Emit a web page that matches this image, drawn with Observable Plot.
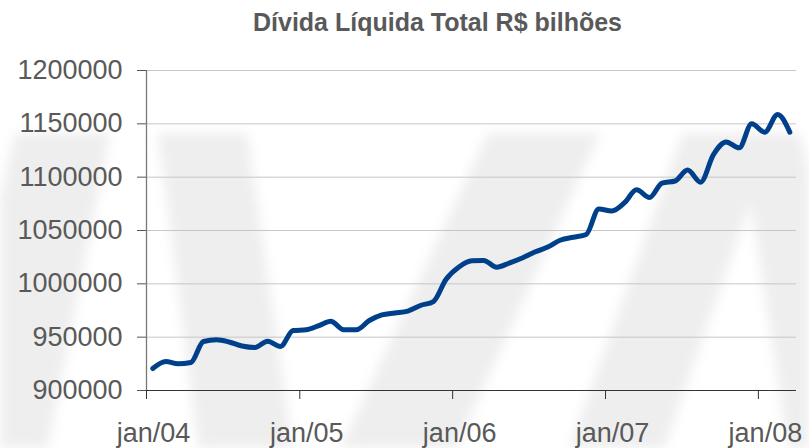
<!DOCTYPE html>
<html>
<head>
<meta charset="utf-8">
<script src="https://cdn.jsdelivr.net/npm/d3@7"></script>
<script src="https://cdn.jsdelivr.net/npm/@observablehq/plot@0.6"></script>
<style>
  html, body { margin: 0; padding: 0; background: #ffffff; }
  #wrap { position: relative; width: 809px; height: 448px; overflow: hidden; background: #ffffff; }
  #bg { position: absolute; left: 0; top: 0; width: 809px; height: 448px; filter: blur(6px); }
  .wm { position: absolute; left: 0; top: 0; width: 809px; height: 448px; background: #eeeeee; }
  #title { position: relative; height: 50px; width: 809px; }
  #title span { position: absolute; left: 0; width: 875px; text-align: center; top: 9px;
    font-family: "Liberation Sans", Arial, sans-serif; font-weight: bold; font-size: 25px; line-height: 26px; color: #595959; white-space: nowrap; }
  #chart { position: relative; }
</style>
</head>
<body>
<div id="wrap">
  <div id="bg">
    <div class="wm" style="clip-path: polygon(15px 133px, 110px 133px, 45px 460px, -60px 460px);"></div>
    <div class="wm" style="clip-path: polygon(158px 133px, 247px 133px, 295px 460px, 200px 460px);"></div>
    <div class="wm" style="clip-path: polygon(488px 133px, 600px 133px, 450px 460px, 335px 460px);"></div>
    <div class="wm" style="clip-path: polygon(683px 133px, 775px 133px, 660px 460px, 565px 460px);"></div>
    <div class="wm" style="clip-path: polygon(740px 133px, 800px 133px, 870px 460px, 790px 460px);"></div>
  </div>
  <div id="title"><span>Dívida Líquida Total R$ bilhões</span></div>
  <div id="chart"></div>
</div>
<script>
// Monthly observations (plotted mid-month), Jan/2004 – Mar/2008
const months = [
  "2004-01","2004-02","2004-03","2004-04","2004-05","2004-06","2004-07","2004-08","2004-09","2004-10","2004-11","2004-12",
  "2005-01","2005-02","2005-03","2005-04","2005-05","2005-06","2005-07","2005-08","2005-09","2005-10","2005-11","2005-12",
  "2006-01","2006-02","2006-03","2006-04","2006-05","2006-06","2006-07","2006-08","2006-09","2006-10","2006-11","2006-12",
  "2007-01","2007-02","2007-03","2007-04","2007-05","2007-06","2007-07","2007-08","2007-09","2007-10","2007-11","2007-12",
  "2008-01","2008-02","2008-03"
];
const divida = [
  920600, 927200, 925000, 926300, 945900, 947500, 945500, 941700, 940300, 946200, 941300, 956300,
  956900, 960900, 965000, 956900, 956900, 965600, 970800, 972700, 974500, 979700, 983400, 1004100,
  1015800, 1021600, 1021900, 1015600, 1019500, 1024200, 1029800, 1034500, 1041100, 1043700, 1046300, 1070200,
  1068300, 1076300, 1088200, 1081000, 1094500, 1096400, 1106700, 1095300, 1121300, 1133000, 1127500, 1150000,
  1142200, 1158800, 1142200
];
const yTicks = [900000, 950000, 1000000, 1050000, 1100000, 1150000, 1200000];
const xTickDates = ["2004-01-01", "2005-01-01", "2006-01-01", "2007-01-01", "2008-01-01"];
const xTickLabels = ["jan/04", "jan/05", "jan/06", "jan/07", "jan/08"];
const xDomain = ["2004-01-01", "2008-04-01"];

const data = months.map((m, i) => ({ date: new Date(m + "-16T00:00:00Z"), value: divida[i] }));
const tickDates = xTickDates.map(d => new Date(d + "T00:00:00Z"));
const dom = xDomain.map(d => new Date(d + "T00:00:00Z"));

const chart = Plot.plot({
  width: 809,
  height: 398,
  marginLeft: 146,
  marginRight: 13,
  marginTop: 20,
  marginBottom: 58,
  style: { fontFamily: "'Liberation Sans', Arial, sans-serif", fontSize: "27px", color: "#595959", background: "transparent", overflow: "visible" },
  x: { type: "utc", domain: dom },
  y: { domain: [900000, 1200000] },
  marks: [
    Plot.gridY(yTicks.slice(1), { stroke: "#c6c6c6", strokeOpacity: 1, strokeWidth: 1 }),
    Plot.axisY(yTicks, { tickSize: 9, tickPadding: 15, tickFormat: d => String(d), stroke: "#555", strokeOpacity: 1, fill: "#595959", label: null }),
    Plot.axisX(tickDates, { tickSize: 9, tickFormat: () => "", stroke: "#333", strokeOpacity: 1, label: null }),
    Plot.axisX(tickDates, { tickSize: 0, tickPadding: 32, dx: 7, tickFormat: d => xTickLabels[tickDates.findIndex(t => +t === +d)], fill: "#595959", label: null }),
    Plot.ruleX([dom[0]], { stroke: "#777", strokeWidth: 1.3 }),
    Plot.ruleY([900000], { stroke: "#333", strokeWidth: 1.2 }),
    Plot.lineY(data, { x: "date", y: "value", stroke: "#00408a", strokeWidth: 5, strokeLinejoin: "round", strokeLinecap: "round", curve: "monotone-x" })
  ]
});
document.getElementById("chart").appendChild(chart);
</script>
</body>
</html>
